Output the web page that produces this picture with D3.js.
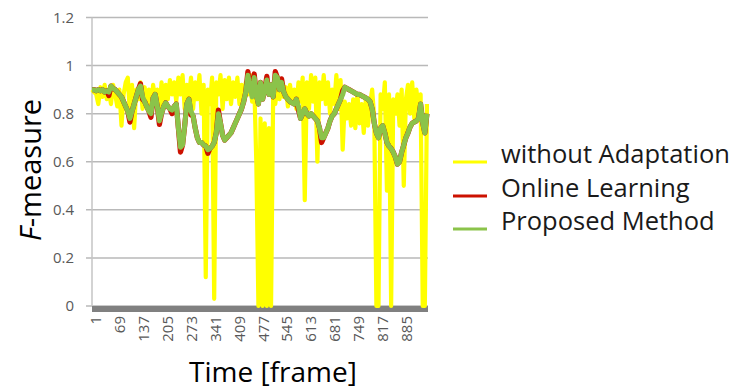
<!DOCTYPE html>
<html>
<head>
<meta charset="utf-8">
<script src="https://cdn.jsdelivr.net/npm/d3@7"></script>
<style>
html,body{margin:0;padding:0;background:#fff;}
svg{display:block;font-family:"Open Sans",sans-serif;}
</style>
</head>
<body>
<svg id="chart" width="733" height="392"></svg>
<script>
// sampling grid: every 6th frame
const frames = d3.range(160).map(k => 1 + 6 * k);

const withoutAdaptation = [
0.90,0.89,0.88,0.84,0.91,0.87,0.92,0.86,0.90,0.84,
0.92,0.88,0.83,0.90,0.75,0.88,0.93,0.95,0.80,0.92,
0.74,0.90,0.86,0.93,0.82,0.91,0.84,0.90,0.82,0.92,
0.86,0.90,0.80,0.93,0.85,0.92,0.86,0.94,0.88,0.93,
0.85,0.95,0.88,0.96,0.82,0.92,0.87,0.95,0.82,0.93,
0.86,0.96,0.80,0.92,0.12,0.90,0.84,0.95,0.03,0.93,
0.88,0.96,0.82,0.94,0.86,0.95,0.84,0.93,0.87,0.95,
0.84,0.92,0.86,0.93,0.88,0.96,0.85,0.93,0.60,0.00,
0.78,0.00,0.76,0.00,0.74,0.00,0.88,0.84,0.92,0.86,
0.93,0.87,0.91,0.83,0.92,0.85,0.90,0.82,0.93,0.85,
0.95,0.44,0.93,0.82,0.96,0.85,0.95,0.60,0.93,0.86,
0.96,0.84,0.93,0.80,0.90,0.84,0.96,0.82,0.94,0.65,
0.85,0.78,0.84,0.75,0.86,0.74,0.88,0.76,0.84,0.72,
0.86,0.75,0.84,0.90,0.78,0.00,0.00,0.88,0.82,0.93,
0.48,0.88,0.00,0.86,0.80,0.88,0.75,0.90,0.50,0.86,
0.92,0.80,0.93,0.78,0.90,0.82,0.88,0.00,0.00,0.84
];

const onlineLearning = [
0.90,0.90,0.895,0.90,0.895,0.90,0.89,0.895,0.875,0.915,
0.905,0.90,0.89,0.88,0.87,0.85,0.83,0.81,0.765,0.81,
0.84,0.87,0.90,0.925,0.86,0.85,0.83,0.81,0.785,0.865,
0.88,0.83,0.755,0.80,0.83,0.845,0.83,0.82,0.80,0.83,
0.84,0.74,0.64,0.67,0.75,0.84,0.86,0.795,0.79,0.74,
0.70,0.68,0.68,0.67,0.665,0.635,0.655,0.665,0.68,0.72,
0.815,0.76,0.71,0.69,0.70,0.71,0.72,0.74,0.76,0.78,
0.80,0.82,0.85,0.89,0.975,0.91,0.92,0.965,0.88,0.84,
0.93,0.86,0.90,0.955,0.88,0.92,0.87,0.975,0.95,0.90,
0.945,0.89,0.87,0.86,0.85,0.845,0.84,0.86,0.815,0.78,
0.80,0.82,0.80,0.79,0.80,0.79,0.78,0.77,0.74,0.68,
0.70,0.72,0.74,0.77,0.79,0.80,0.82,0.84,0.86,0.895,
0.91,0.905,0.90,0.895,0.89,0.885,0.88,0.88,0.875,0.87,
0.865,0.86,0.85,0.82,0.76,0.72,0.70,0.74,0.75,0.72,
0.68,0.665,0.655,0.64,0.62,0.59,0.60,0.64,0.67,0.70,
0.72,0.745,0.76,0.765,0.77,0.78,0.84,0.76,0.72,0.80
];

const proposedMethod = [
0.90,0.90,0.895,0.90,0.895,0.90,0.89,0.895,0.89,0.915,
0.905,0.90,0.89,0.88,0.87,0.85,0.83,0.81,0.78,0.81,
0.84,0.87,0.90,0.915,0.87,0.85,0.83,0.81,0.80,0.865,
0.88,0.83,0.77,0.80,0.83,0.845,0.83,0.82,0.815,0.83,
0.84,0.74,0.66,0.67,0.75,0.84,0.86,0.81,0.79,0.74,
0.70,0.68,0.68,0.67,0.665,0.65,0.655,0.665,0.68,0.72,
0.80,0.76,0.71,0.69,0.70,0.71,0.72,0.74,0.76,0.78,
0.80,0.82,0.85,0.89,0.96,0.91,0.87,0.95,0.88,0.84,
0.93,0.86,0.90,0.94,0.88,0.92,0.87,0.96,0.95,0.90,
0.93,0.89,0.87,0.86,0.85,0.845,0.84,0.86,0.83,0.78,
0.80,0.82,0.80,0.79,0.80,0.79,0.78,0.77,0.74,0.70,
0.70,0.72,0.74,0.77,0.79,0.80,0.82,0.84,0.86,0.88,
0.91,0.905,0.90,0.895,0.89,0.885,0.88,0.88,0.875,0.87,
0.865,0.86,0.85,0.82,0.76,0.72,0.70,0.74,0.75,0.72,
0.68,0.665,0.655,0.64,0.62,0.59,0.60,0.64,0.67,0.70,
0.72,0.745,0.76,0.765,0.77,0.78,0.84,0.76,0.72,0.80
];

const yTicks = [0, 0.2, 0.4, 0.6, 0.8, 1, 1.2];
const xTickLabels = [1, 69, 137, 205, 273, 341, 409, 477, 545, 613, 681, 749, 817, 885];

const seriesNames = ["without Adaptation", "Online Learning", "Proposed Method"];
const seriesColors = ["#ffff00", "#cc1100", "#8bc34a"];

const svg = d3.select("#chart");
const x = d3.scaleLinear().domain([1, 958]).range([92, 428]);
const y = d3.scaleLinear().domain([0, 1.2]).range([306, 17.5]);

// gridlines
svg.append("g").selectAll("line").data(yTicks).join("line")
  .attr("x1", 86).attr("x2", 428)
  .attr("y1", d => y(d)).attr("y2", d => y(d))
  .attr("stroke", "#b9b9b9").attr("stroke-width", 1.5);

// y axis line
svg.append("line").attr("x1", 92).attr("x2", 92)
  .attr("y1", y(1.2)).attr("y2", y(0))
  .attr("stroke", "#c4c4c4").attr("stroke-width", 1.5);

// y tick labels
svg.append("g").selectAll("text").data(yTicks).join("text")
  .attr("x", 74).attr("y", d => y(d)).attr("dy", "0.36em")
  .attr("text-anchor", "end").attr("font-size", 15).attr("fill", "#595959")
  .text(d => d3.format("~g")(d));

// bottom bar
svg.append("rect").attr("x", 92).attr("y", 306).attr("width", 336).attr("height", 6)
  .attr("fill", "#808080");

// x tick labels
svg.append("g").selectAll("text").data(xTickLabels).join("text")
  .attr("transform", d => `translate(${x(d) + 4},316) rotate(-90)`)
  .attr("dy", "0.36em")
  .attr("text-anchor", "end").attr("font-size", 15).attr("fill", "#595959")
  .text(d => d);

// series
const allSeries = [withoutAdaptation, onlineLearning, proposedMethod];
const widths = [4.2, 5.2, 5];
allSeries.forEach((vals, i) => {
  const line = d3.line().x((d, j) => x(frames[j])).y(d => y(d));
  svg.append("path").datum(vals)
    .attr("d", line)
    .attr("fill", "none")
    .attr("stroke", seriesColors[i])
    .attr("stroke-width", widths[i])
    .attr("stroke-linejoin", "round");
});

// axis titles
svg.append("text").attr("x", 273).attr("y", 382).attr("text-anchor", "middle")
  .attr("font-size", 28).attr("fill", "#000").text("Time [frame]");

const yt = svg.append("text").attr("transform", "translate(41,170) rotate(-90)")
  .attr("text-anchor", "middle").attr("font-size", 29).attr("fill", "#000");
yt.append("tspan").attr("font-style", "italic").text("F");
yt.append("tspan").text("-measure");

// legend
const legendY = [163, 197, 230];
const lg = svg.append("g");
seriesNames.forEach((name, i) => {
  lg.append("line").attr("x1", 453).attr("x2", 487)
    .attr("y1", legendY[i] - 1).attr("y2", legendY[i] - 1)
    .attr("stroke", seriesColors[i]).attr("stroke-width", 3);
  lg.append("text").attr("x", 501).attr("y", legendY[i])
    .attr("font-size", 25.5).attr("fill", "#1a1a1a").text(name);
});
</script>
</body>
</html>
